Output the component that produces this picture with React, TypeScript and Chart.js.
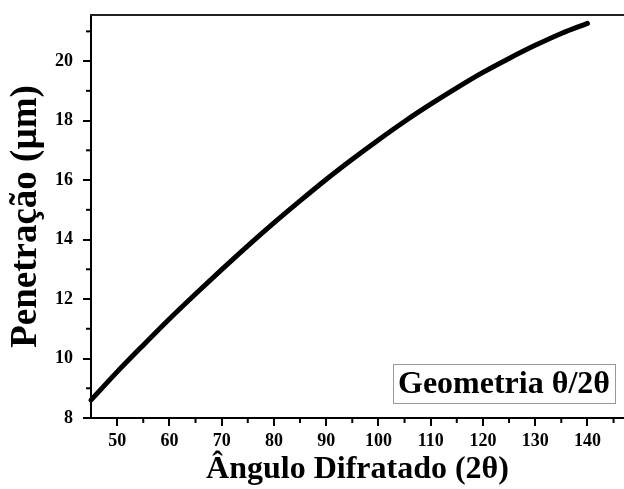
import { useEffect, useRef } from "react";
import { Chart, registerables } from "chart.js";

Chart.register(...registerables);

// ---- data ----
const angles = [45, 50, 55, 60, 65, 70, 75, 80, 85, 90, 95, 100, 105, 110, 115, 120, 125, 130, 135, 140];
const penetration = [8.6, 9.55, 10.45, 11.33, 12.17, 12.99, 13.79, 14.56, 15.3, 16.02, 16.7, 17.35, 17.97, 18.55, 19.1, 19.62, 20.09, 20.53, 20.93, 21.27];

const xTickValues = [50, 60, 70, 80, 90, 100, 110, 120, 130, 140];
const xMinorTicks = [55, 65, 75, 85, 95, 105, 115, 125, 135, 145];
const yTickValues = [8, 10, 12, 14, 16, 18, 20];
const yMinorTicks = [9, 11, 13, 15, 17, 19, 21];

const xTitle = "Ângulo Difratado (2θ)";
const yTitle = "Penetração (µm)";
const annotationText = "Geometria θ/2θ";

const FONT = '"Liberation Serif", "Times New Roman", serif';

const framePlugin = {
  id: "frame",
  afterDatasetsDraw(chart: any) {
    const { ctx, chartArea, scales } = chart;
    ctx.save();
    // top frame line
    ctx.strokeStyle = "#222";
    ctx.lineWidth = 2;
    ctx.beginPath();
    ctx.moveTo(chartArea.left - 1, chartArea.top);
    ctx.lineTo(chart.width, chartArea.top);
    ctx.stroke();

    // minor ticks
    ctx.strokeStyle = "#000";
    ctx.lineWidth = 2;
    for (const v of xMinorTicks) {
      const x = scales.x.getPixelForValue(v);
      if (x > chart.width) continue;
      ctx.beginPath();
      ctx.moveTo(x, chartArea.bottom);
      ctx.lineTo(x, chartArea.bottom + 5);
      ctx.stroke();
    }
    for (const v of yMinorTicks) {
      const y = scales.y.getPixelForValue(v);
      if (y < chartArea.top) continue;
      ctx.beginPath();
      ctx.moveTo(chartArea.left, y);
      ctx.lineTo(chartArea.left - 5, y);
      ctx.stroke();
    }

    // annotation box
    ctx.font = `bold 32px ${FONT}`;
    const w = ctx.measureText(annotationText).width;
    const boxW = w + 10;
    const boxH = 39;
    const right = chartArea.right - 9;
    const bottom = chartArea.bottom - 15;
    const left = right - boxW;
    const top = bottom - boxH;
    ctx.fillStyle = "#fff";
    ctx.fillRect(left, top, boxW, boxH);
    ctx.strokeStyle = "#999";
    ctx.lineWidth = 1;
    ctx.strokeRect(left + 0.5, top + 0.5, boxW, boxH);
    ctx.fillStyle = "#000";
    ctx.textAlign = "center";
    ctx.textBaseline = "middle";
    ctx.fillText(annotationText, left + boxW / 2, top + boxH / 2 + 1);
    ctx.restore();
  },
};

export default function App() {
  const canvasRef = useRef<HTMLCanvasElement | null>(null);

  useEffect(() => {
    if (!canvasRef.current) return;
    const chart = new Chart(canvasRef.current, {
      type: "line",
      data: {
        datasets: [
          {
            data: angles.map((a, i) => ({ x: a, y: penetration[i] })),
            borderColor: "#000",
            borderWidth: 5,
            borderCapStyle: "round",
            pointRadius: 0,
            cubicInterpolationMode: "monotone",
            fill: false,
            clip: false,
          } as any,
        ],
      },
      options: {
        animation: false,
        responsive: true,
        maintainAspectRatio: false,
        layout: { padding: { top: 15, right: 0, left: 0, bottom: 0 } },
        plugins: {
          legend: { display: false },
          tooltip: { enabled: false },
        },
        scales: {
          x: {
            type: "linear",
            min: 45,
            max: 147,
            afterBuildTicks: (scale: any) => {
              scale.ticks = xTickValues.map((value) => ({ value }));
            },
            afterFit: (scale: any) => {
              scale.height = 71;
              scale.paddingLeft = 0;
              scale.paddingRight = 0;
            },
            ticks: {
              color: "#000",
              font: { family: FONT, size: 18, weight: "bold" },
              padding: 5,
              maxRotation: 0,
              autoSkip: false,
            },
            grid: {
              display: true,
              drawOnChartArea: false,
              drawTicks: true,
              tickLength: 8,
              color: "#000",
              lineWidth: 2,
            },
            border: { display: true, color: "#000", width: 2 },
            title: {
              display: true,
              text: xTitle,
              color: "#000",
              font: { family: FONT, size: 32, weight: "bold" },
              padding: { top: 0, bottom: 0 },
            },
          },
          y: {
            type: "linear",
            min: 8,
            max: 21.55,
            afterBuildTicks: (scale: any) => {
              scale.ticks = yTickValues.map((value) => ({ value }));
            },
            afterFit: (scale: any) => {
              scale.width = 91;
              scale.paddingTop = 0;
              scale.paddingBottom = 0;
            },
            ticks: {
              color: "#000",
              font: { family: FONT, size: 18, weight: "bold" },
              padding: 10,
            },
            grid: {
              display: true,
              drawOnChartArea: false,
              drawTicks: true,
              tickLength: 8,
              color: "#000",
              lineWidth: 2,
            },
            border: { display: true, color: "#000", width: 2 },
            title: {
              display: true,
              text: yTitle,
              color: "#000",
              font: { family: FONT, size: 37, weight: "bold" },
              padding: { top: 4, bottom: 0 },
            },
          },
        },
      },
      plugins: [framePlugin],
    });
    return () => chart.destroy();
  }, []);

  return (
    <div style={{ position: "fixed", left: 0, top: 0, width: 624, height: 489, background: "#fff" }}>
      <canvas ref={canvasRef} />
    </div>
  );
}
